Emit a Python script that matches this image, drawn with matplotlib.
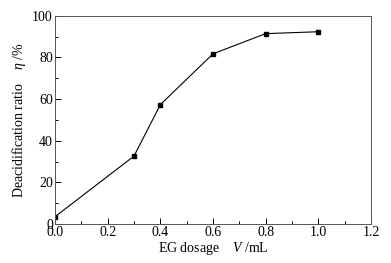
import matplotlib
matplotlib.use("Agg")
import matplotlib.pyplot as plt
from matplotlib.ticker import MultipleLocator

dosage = [0.0, 0.3, 0.4, 0.6, 0.8, 1.0]
ratio = [3.5, 32.6, 57.3, 81.7, 91.4, 92.3]

plt.rcParams['font.family'] = ['Liberation Serif']
plt.rcParams['mathtext.fontset'] = 'custom'
plt.rcParams['mathtext.it'] = 'Liberation Serif:italic'
plt.rcParams['mathtext.rm'] = 'Liberation Serif'

fig = plt.figure(figsize=(3.91, 2.63), dpi=100)
ax = fig.add_axes([55/391, 1-224/263, (371-55)/391, (224-15.7)/263])
ax.plot(dosage, ratio, color='black', lw=0.8, marker='s', ms=3.4, mfc='black', mec='black')
ax.set_xlim(0, 1.2)
ax.set_ylim(0, 100)
ax.xaxis.set_minor_locator(MultipleLocator(0.1))
ax.yaxis.set_major_locator(MultipleLocator(20))
ax.yaxis.set_minor_locator(MultipleLocator(10))
ax.set_xticks([0, 0.2, 0.4, 0.6, 0.8, 1.0, 1.2])
ax.set_xticklabels(['0.0', '0.2', '0.4', '0.6', '0.8', '1.0', '1.2'])
ax.tick_params(which='both', direction='in', top=False, right=False, labelsize=10, pad=1.5)
ax.tick_params(which='major', length=4, width=0.7)
ax.tick_params(which='minor', length=2, width=0.7)
for s in ax.spines.values():
    s.set_linewidth(0.7)
    s.set_color('#555555')
ax.set_xlabel(r'EG dosage    $V$ /mL', fontsize=10, labelpad=1)
ax.set_ylabel(r'Deacidification ratio    $\eta$ /%', fontsize=10, labelpad=3)
fig.savefig('out.png', dpi=100)
